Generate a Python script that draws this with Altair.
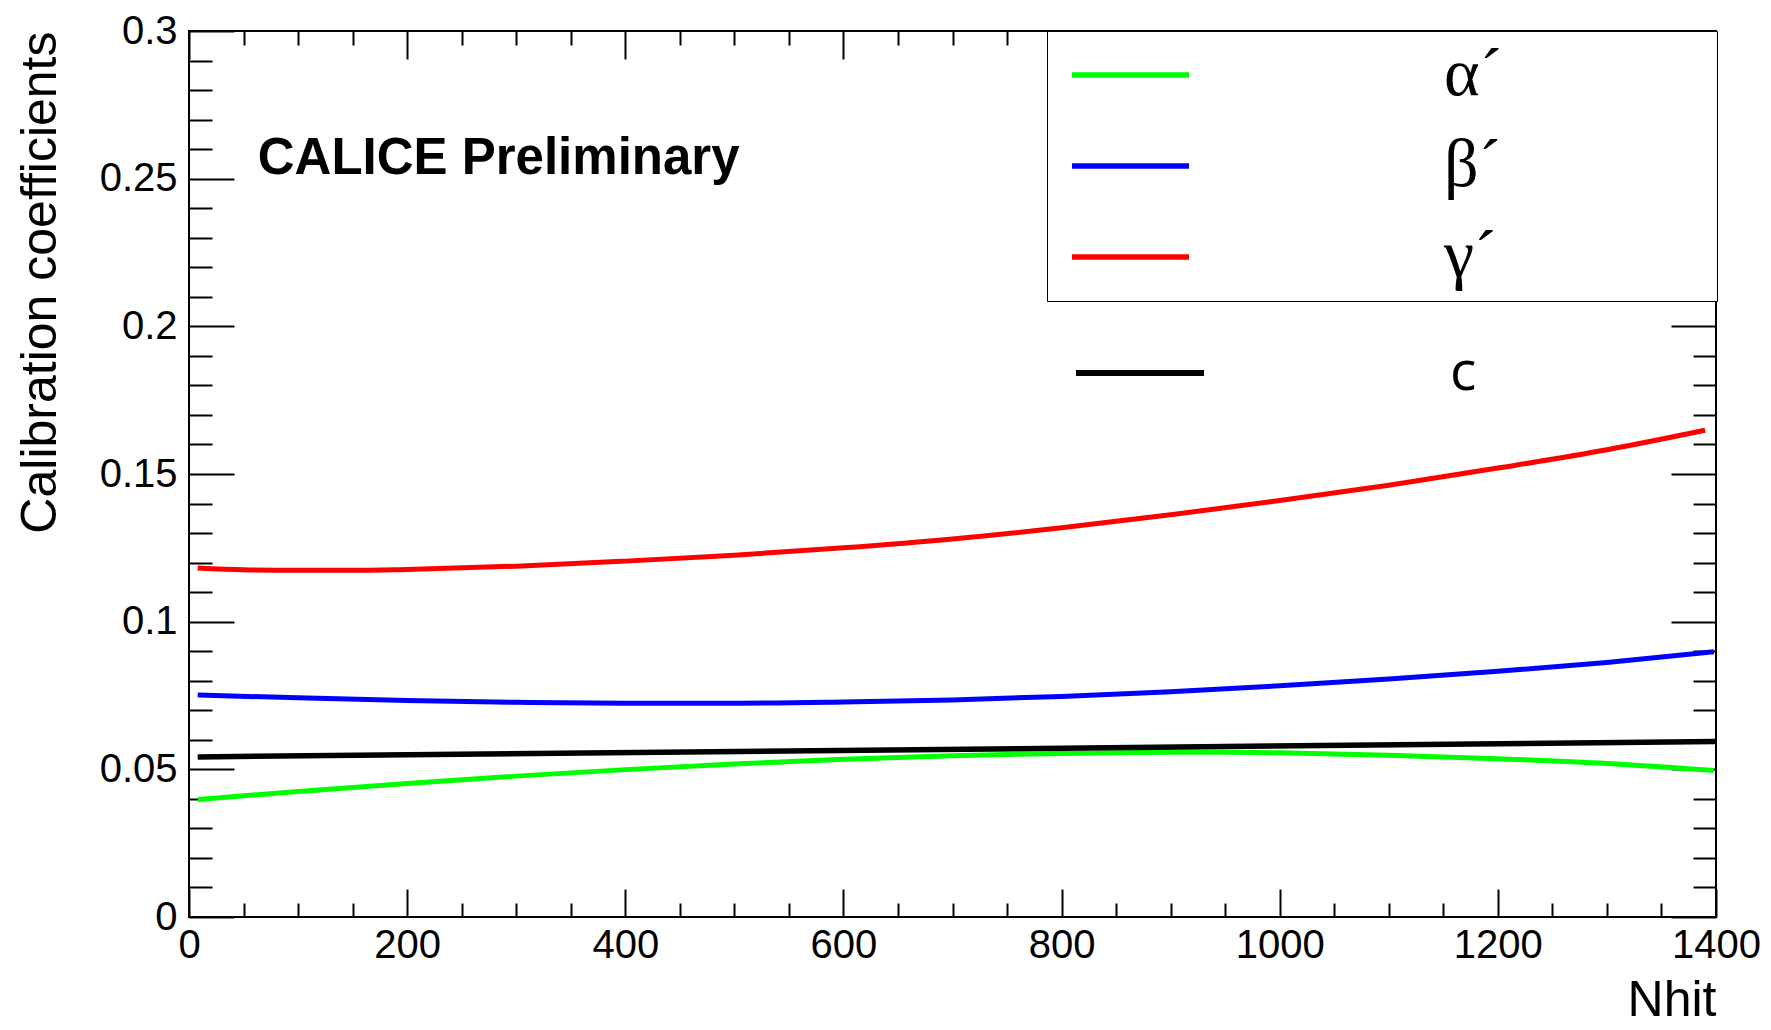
import altair as alt
import pandas as pd

# ---- data ----
nhit_alpha = [8, 100, 200, 300, 400, 500, 600, 700, 800, 900, 950, 1000, 1100, 1200, 1300, 1398]
alpha_vals = [0.0398, 0.0425, 0.0452, 0.0477, 0.0499, 0.0518, 0.0534, 0.0546, 0.0554, 0.0558, 0.0558,
              0.0556, 0.0548, 0.0536, 0.0520, 0.0496]

nhit_beta = [8, 100, 200, 300, 400, 500, 600, 700, 800, 900, 1000, 1100, 1200, 1300, 1398]
beta_vals = [0.0752, 0.0742, 0.0733, 0.0727, 0.0724, 0.0724, 0.0728, 0.0735, 0.0747, 0.0763, 0.0783,
             0.0806, 0.0832, 0.0862, 0.0898]

nhit_gamma = [8, 50, 100, 150, 200, 300, 400, 500, 600, 700, 800, 900, 1000, 1100, 1200, 1300, 1390]
gamma_vals = [0.1182, 0.1176, 0.1174, 0.1174, 0.1177, 0.1188, 0.1205, 0.1225, 0.1250, 0.1280, 0.1318,
              0.1362, 0.1410, 0.1462, 0.1520, 0.1582, 0.1648]

nhit_c = [8, 1400]
c_vals = [0.0542, 0.0594]

series_names = ["α´", "β´", "γ´"]
series_colors = ["#00ff00", "#0000ff", "#ff0000"]
c_name = ["c"]
c_color = ["#000000"]

x_major = [0, 200, 400, 600, 800, 1000, 1200, 1400]
x_minor = [v for v in range(0, 1401, 50) if v % 200]
y_major = [0, 0.05, 0.1, 0.15, 0.2, 0.25, 0.3]
y_minor = [round(i * 0.01, 2) for i in range(31) if i % 5]

annot_x = [63]
annot_y = [0.2567]
annot_text = ["CALICE Preliminary"]

# ---- tables ----
rows = []
for name, xs, ys in zip(series_names, [nhit_alpha, nhit_beta, nhit_gamma], [alpha_vals, beta_vals, gamma_vals]):
    for xv, yv in zip(xs, ys):
        rows.append({"Nhit": xv, "value": yv, "series": name})
df = pd.DataFrame(rows)
df_c = pd.DataFrame({"Nhit": nhit_c, "value": c_vals, "series": c_name * len(nhit_c)})
df_annot = pd.DataFrame({"Nhit": annot_x, "value": annot_y, "label": annot_text})

xscale = alt.Scale(domain=[0, 1400], nice=False, zero=False)
yscale = alt.Scale(domain=[0, 0.3], nice=False, zero=False)

SANS = "Liberation Sans"
PAD_TEXT = "\u00a0" * 12 + "\u200b"   # widens the legend box to the frame edge


def tick_layer(xaxis, yaxis):
    return alt.Chart(df).mark_point(opacity=0, size=1).encode(
        x=alt.X("Nhit:Q", scale=xscale, axis=xaxis),
        y=alt.Y("value:Q", scale=yscale, axis=yaxis),
    )


def tick_axis(orient, values, length):
    return alt.Axis(orient=orient, values=values, offset=-length, tickSize=length,
                    labels=False, domain=False, grid=False, title=None)


minor_ticks = tick_layer(tick_axis("bottom", x_minor, 14), tick_axis("left", y_minor, 23))
top_major = tick_layer(tick_axis("top", x_major, 28), tick_axis("right", y_major, 45))
top_minor = tick_layer(tick_axis("top", x_minor, 14), tick_axis("right", y_minor, 23))

lines = alt.Chart(df).mark_line(strokeWidth=5, interpolate="monotone").encode(
    x=alt.X("Nhit:Q", scale=xscale,
            axis=alt.Axis(orient="bottom", values=x_major, offset=-28, tickSize=28, domain=False,
                          grid=False, format="d", labelPadding=8, labelFont=SANS, labelFontSize=40,
                          labelFlush=False, labelOverlap=False,
                          title="Nhit", titleAnchor="end", titleFont=SANS, titleFontSize=50,
                          titleFontWeight="normal", titlePadding=10)),
    y=alt.Y("value:Q", scale=yscale,
            axis=alt.Axis(orient="left", values=y_major, offset=-45, tickSize=45, domain=False,
                          grid=False, format="~g", labelPadding=12, labelFont=SANS, labelFontSize=40,
                          labelFlush=False, labelOverlap=False,
                          title="Calibration coefficients", titleAnchor="end", titleFont=SANS,
                          titleFontSize=50, titleFontWeight="normal", titlePadding=34)),
    color=alt.Color("series:N", scale=alt.Scale(domain=series_names, range=series_colors),
                    legend=alt.Legend(orient="none", legendX=858, legendY=0, title=None,
                                      strokeColor="black", fillColor="white", padding=10,
                                      symbolType="M-3,0H3", symbolSize=1521, symbolStrokeWidth=5.5,
                                      symbolOffset=39.5, labelOffset=279.5, rowPadding=23,
                                      labelFont="Liberation Serif", labelFontSize=68, labelLimit=0,
                                      labelColor="black",
                                      labelExpr="datum.label + '" + PAD_TEXT + "'")),
)

cline = alt.Chart(df_c).mark_line(strokeWidth=5.5).encode(
    x=alt.X("Nhit:Q", scale=xscale, axis=None),
    y=alt.Y("value:Q", scale=yscale, axis=None),
    color=alt.Color("series:N", scale=alt.Scale(domain=c_name, range=c_color),
                    legend=alt.Legend(orient="none", legendX=923.5, legendY=314.5, title=None,
                                      padding=0, symbolType="M-3,0H3", symbolSize=1820,
                                      symbolStrokeWidth=6, labelOffset=282.5, labelFont="Open Sans",
                                      labelFontSize=55, labelColor="black")),
)

calice = alt.Chart(df_annot).mark_text(align="left", baseline="middle", font=SANS, fontSize=51,
                                       fontWeight="bold", color="black").encode(
    x=alt.X("Nhit:Q", scale=xscale, axis=None),
    y=alt.Y("value:Q", scale=yscale, axis=None),
    text="label:N",
)

chart = alt.layer(minor_ticks, top_major, top_minor, lines, cline, calice).resolve_scale(
    color="independent"
).resolve_axis(
    x="independent", y="independent"
).properties(
    width=1527, height=886,
    autosize=alt.AutoSizeParams(type="none"),
    padding={"left": 181, "top": 23, "right": 45, "bottom": 112},
).configure_view(
    stroke="black", strokeWidth=2
).configure_axis(
    tickColor="black", tickWidth=2, labelColor="black", titleColor="black"
)

chart.save("out.html", embed_options={"renderer": "svg", "actions": False})
